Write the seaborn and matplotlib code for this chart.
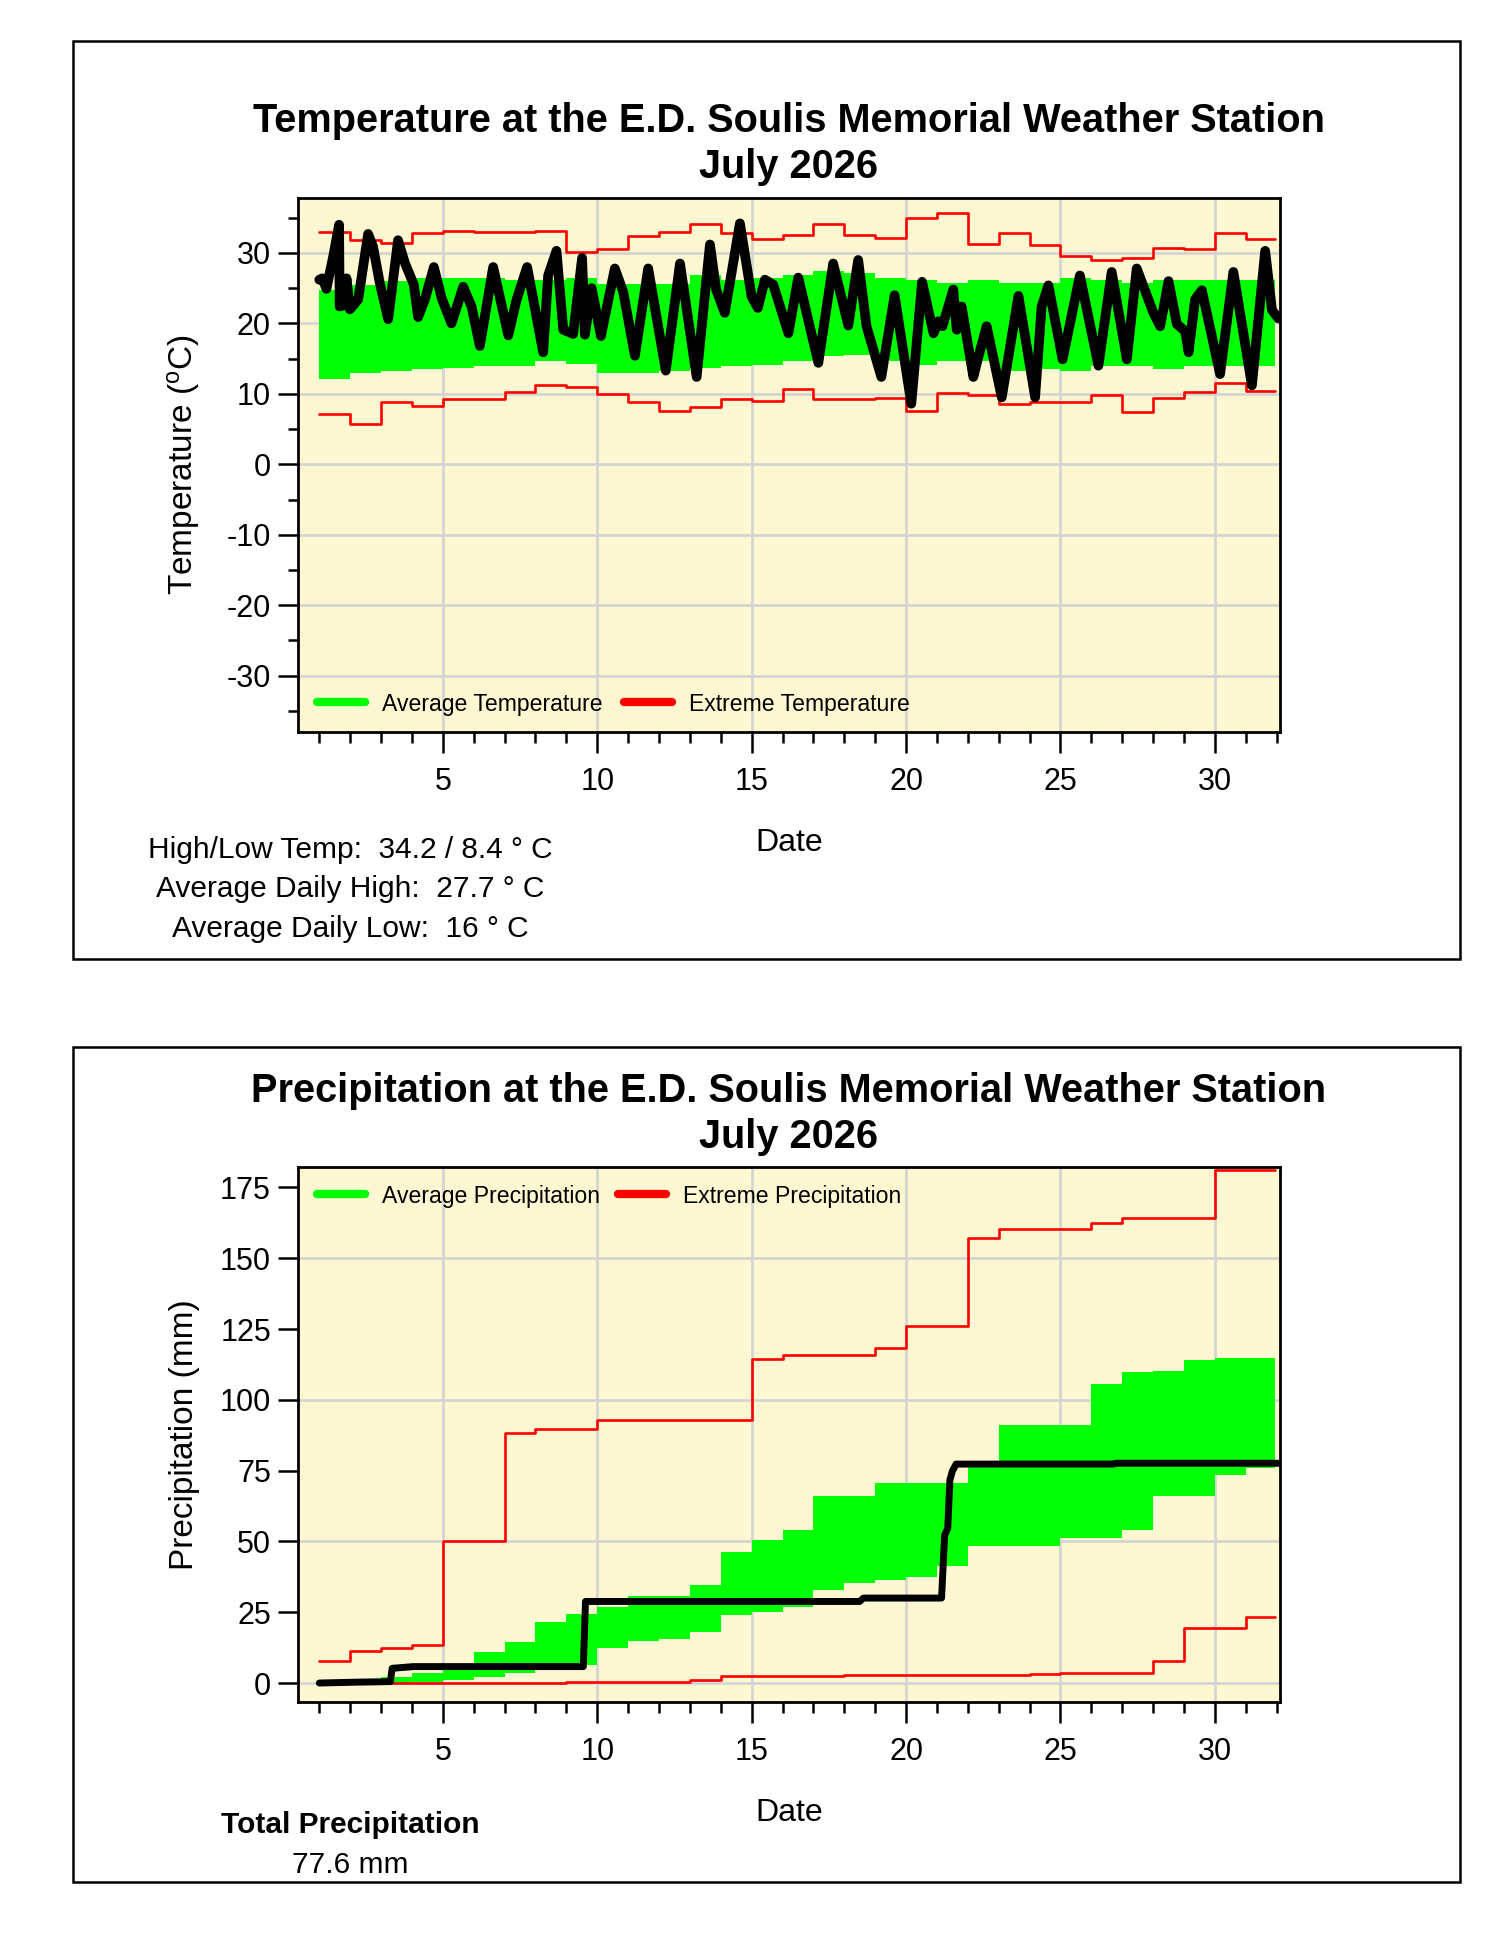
import matplotlib
matplotlib.use("Agg")
import matplotlib.pyplot as plt
import seaborn as sns
from matplotlib.lines import Line2D
from matplotlib.patches import Rectangle
from matplotlib.ticker import FixedFormatter

# ---------------- data ----------------
days = list(range(1, 32))
day_end = 31.96

# temperature (deg C)
temp_ext_high = [33.0, 31.9, 31.4, 32.8, 33.1, 33.0, 33.0, 33.1, 30.1, 30.5,
                 32.4, 33.0, 34.1, 32.9, 32.0, 32.6, 34.1, 32.5, 32.1, 34.9,
                 35.7, 31.3, 32.8, 31.1, 29.5, 29.0, 29.3, 30.7, 30.6, 32.8, 32.0]
temp_ext_low = [7.1, 5.75, 8.8, 8.3, 9.2, 9.3, 10.3, 11.3, 11.0, 10.0,
                8.8, 7.6, 8.2, 9.3, 9.0, 10.7, 9.3, 9.3, 9.4, 7.6,
                10.1, 9.9, 8.6, 8.8, 8.8, 9.9, 7.4, 9.4, 10.2, 11.5, 10.4]
temp_avg_high = [24.8, 25.4, 26.0, 26.4, 26.5, 26.5, 26.1, 26.1, 26.4, 25.6,
                 25.6, 25.6, 26.9, 26.2, 26.5, 26.8, 27.4, 27.2, 26.5, 26.1,
                 25.7, 26.1, 25.7, 25.8, 26.4, 26.1, 25.7, 26.2, 26.2, 26.2, 26.2]
temp_avg_low = [12.1, 13.0, 13.2, 13.5, 13.6, 13.9, 13.9, 14.6, 14.2, 13.0,
                13.0, 13.3, 13.65, 13.9, 14.1, 14.6, 15.4, 15.55, 14.6, 14.1,
                14.6, 14.6, 13.2, 13.5, 13.3, 14.0, 14.0, 13.5, 14.0, 14.0, 14.0]
temp_time = [1.00, 1.10, 1.23, 1.45, 1.64, 1.66, 1.83, 1.88, 1.99, 2.26,
             2.58, 2.74, 2.96, 3.23, 3.55, 3.77, 4.06, 4.20, 4.42, 4.71,
             4.96, 5.28, 5.66, 5.93, 6.20, 6.63, 7.12, 7.39, 7.73, 8.25,
             8.41, 8.68, 8.90, 9.22, 9.51, 9.60, 9.82, 10.12, 10.57, 10.84,
             11.22, 11.65, 12.22, 12.68, 13.22, 13.65, 13.85, 14.13, 14.62, 15.00,
             15.20, 15.43, 15.70, 16.19, 16.51, 17.16, 17.64, 18.13, 18.45, 18.72,
             19.20, 19.63, 20.17, 20.52, 20.89, 21.05, 21.18, 21.53, 21.64, 21.80,
             22.18, 22.34, 22.61, 23.10, 23.64, 24.18, 24.39, 24.61, 25.07, 25.63,
             26.23, 26.66, 27.15, 27.47, 28.01, 28.23, 28.50, 28.77, 29.04, 29.15,
             29.36, 29.58, 30.17, 30.60, 31.20, 31.63, 31.85, 32.06]
temp_obs = [26.2, 26.4, 24.9, 29.5, 34.0, 22.4, 22.6, 26.4, 22.0, 23.4,
            32.7, 30.9, 25.7, 20.6, 31.8, 28.6, 25.5, 20.9, 23.4, 28.0,
            23.6, 20.0, 25.2, 22.4, 16.8, 28.0, 18.3, 23.4, 28.0, 15.9,
            26.8, 30.3, 19.1, 18.5, 29.3, 18.4, 25.0, 18.2, 27.8, 24.5,
            15.4, 27.8, 13.3, 28.5, 12.4, 31.2, 24.8, 21.5, 34.2, 23.8,
            22.2, 26.2, 25.5, 18.6, 26.5, 14.4, 28.5, 19.7, 29.0, 19.6,
            12.4, 24.0, 8.6, 25.9, 18.6, 20.3, 19.6, 24.8, 19.1, 22.4,
            12.4, 15.2, 19.6, 9.5, 23.9, 9.5, 22.4, 25.4, 14.9, 26.8,
            14.0, 27.3, 14.9, 27.8, 21.5, 19.6, 26.0, 19.9, 18.9, 15.9,
            23.4, 24.7, 12.8, 27.3, 11.2, 30.3, 21.9, 20.7]

# precipitation (mm, cumulative)
precip_ext_high = [7.7, 11.3, 12.3, 13.4, 50.0, 50.0, 88.2, 89.6, 89.6, 92.7,
                   92.7, 92.7, 92.7, 92.7, 114.4, 115.9, 115.9, 115.9, 118.3, 126.0,
                   126.0, 157.1, 160.4, 160.4, 160.4, 162.6, 164.2, 164.2, 164.2, 181.2, 181.2]
precip_ext_low = [0.0, 0.0, 0.0, 0.0, 0.0, 0.0, 0.0, 0.0, 0.4, 0.4,
                  0.4, 0.4, 0.9, 2.5, 2.5, 2.5, 2.5, 2.8, 2.8, 2.8,
                  2.8, 2.8, 2.8, 3.2, 3.4, 3.4, 3.4, 7.7, 19.5, 19.5, 23.3]
precip_avg_high = [0.5, 1.0, 2.2, 3.7, 4.5, 11.0, 14.4, 21.7, 24.5, 27.0,
                   30.9, 30.9, 34.5, 46.1, 50.4, 54.0, 66.2, 66.2, 70.5, 70.5,
                   70.5, 77.0, 91.2, 91.2, 91.2, 105.5, 109.8, 110.2, 114.2, 114.8, 114.8]
precip_avg_low = [0.0, 0.0, 0.0, 0.5, 1.0, 2.2, 3.5, 5.0, 6.5, 12.3,
                  15.0, 15.6, 18.0, 24.1, 25.0, 27.0, 32.7, 35.4, 36.4, 37.3,
                  41.2, 48.5, 48.5, 48.5, 51.3, 51.3, 54.0, 66.2, 66.2, 73.5, 76.0]
precip_time = [1.00, 2.20, 3.30, 3.36, 4.05, 9.55, 9.62, 18.50, 18.62, 21.15,
               21.25, 21.35, 21.42, 21.50, 21.62, 26.70, 26.80, 32.06]
precip_obs = [0.0, 0.3, 0.5, 5.2, 5.8, 5.8, 28.8, 28.8, 30.0, 30.0,
              52.2, 54.6, 71.7, 74.8, 77.3, 77.3, 77.6, 77.6]

x_major = [5, 10, 15, 20, 25, 30]
x_minor = [d for d in range(1, 33) if d % 5 != 0]
temp_major = [-30, -20, -10, 0, 10, 20, 30]
temp_minor = [-35, -25, -15, -5, 5, 15, 25, 35]
precip_major = [0, 50, 100, 150]
precip_minor = [25, 75, 125, 175]

temp_stats = ["High/Low Temp:  34.2 / 8.4 \u00b0 C",
              "Average Daily High:  27.7 \u00b0 C",
              "Average Daily Low:  16 \u00b0 C"]
precip_stats = ["Total Precipitation", "77.6 mm"]

# ---------------- style ----------------
sns.set_theme(style="ticks")
plt.rcParams["font.family"] = ["Liberation Sans", "DejaVu Sans"]
plt.rcParams["mathtext.fontset"] = "custom"
plt.rcParams["mathtext.rm"] = "Liberation Sans"
plt.rcParams["mathtext.it"] = "Liberation Sans"
plt.rcParams["axes.unicode_minus"] = False
for k in ["text.color", "axes.labelcolor", "xtick.color", "ytick.color", "axes.edgecolor"]:
    plt.rcParams[k] = "black"

W, H = 1500, 1941
fig = plt.figure(figsize=(W / 100, H / 100), dpi=100)
fig.patch.set_facecolor("white")

BG = "#FDF8D1"
GRID = "#D3D3D3"
GREEN = "#00FF00"
RED = "#FF0000"
TICK_FS = 22


def fx(x):
    return x / W


def fy(y):
    return 1 - y / H


def steps(vals):
    return days + [day_end], list(vals) + [vals[-1]]


def style_axes(ax):
    ax.set_facecolor(BG)
    ax.set_xlim(0.31, 32.11)
    ax.set_xticks(x_major)
    ax.set_xticks(x_minor, minor=True)
    ax.grid(True, which="major", color=GRID, lw=1.9)
    ax.set_axisbelow(True)
    for s in ax.spines.values():
        s.set_visible(True)
        s.set_linewidth(2.0)
        s.set_color("black")
    ax.tick_params(axis="both", which="both", bottom=True, left=True, top=False, right=False,
                   direction="out", width=1.8, colors="black", labelsize=TICK_FS)
    ax.tick_params(axis="x", which="major", length=15, pad=10)
    ax.tick_params(axis="x", which="minor", length=8)
    ax.tick_params(axis="y", which="major", length=14.5, pad=5)


def panel_band(ax, lo, hi):
    xs, ylo = steps(lo)
    _, yhi = steps(hi)
    ax.fill_between(xs, ylo, yhi, step="post", color=GREEN, lw=0, zorder=2)


def panel_red(ax, vals):
    xs, ys = steps(vals)
    sns.lineplot(x=xs, y=ys, ax=ax, drawstyle="steps-post", color=RED, lw=1.9,
                 estimator=None, sort=False, legend=False, zorder=3)


# frames
fig.patches.append(Rectangle((fx(73), fy(959)), (1460 - 73) / W, (959 - 41) / H,
                             transform=fig.transFigure, fill=False, lw=1.8, edgecolor="black"))
fig.patches.append(Rectangle((fx(73), fy(1882)), (1460 - 73) / W, (1882 - 1047) / H,
                             transform=fig.transFigure, fill=False, lw=1.8, edgecolor="black"))

# ---------------- temperature ----------------
ax1 = fig.add_axes([fx(298), fy(732), 982 / W, 534 / H])
style_axes(ax1)
ax1.set_ylim(-38.0, 37.8)
ax1.set_yticks(temp_major)
ax1.set_yticks(temp_minor, minor=True)
ax1.tick_params(axis="y", which="minor", length=7)
panel_band(ax1, temp_avg_low, temp_avg_high)
panel_red(ax1, temp_ext_high)
panel_red(ax1, temp_ext_low)
sns.lineplot(x=temp_time, y=temp_obs, ax=ax1, color="black", lw=7.0, estimator=None,
             sort=False, legend=False, zorder=4, solid_joinstyle="round", solid_capstyle="round")
ax1.set_xlabel("Date", fontsize=23)
ax1.xaxis.label.set_va("baseline")
ax1.xaxis.set_label_coords(0.5, -(851 - 732) / 534)
ax1.set_ylabel(r"Temperature ($^{\rm o}$C)", fontsize=24)
ax1.yaxis.label.set_va("center")
ax1.yaxis.set_label_coords((184 - 298) / 982, 0.5)

h1 = [Line2D([0], [0], color=GREEN, lw=6, solid_capstyle="round"),
      Line2D([0], [0], color=RED, lw=6, solid_capstyle="round")]
ax1.legend(h1, ["Average Temperature", "Extreme Temperature"], loc="center left",
           bbox_to_anchor=((317 - 298) / 982, (732 - 704) / 534), ncol=2, frameon=False,
           fontsize=16.6, handlelength=2.1, handletextpad=0.7, columnspacing=0.95,
           borderpad=0, borderaxespad=0)

fig.text(fx(789), fy(131.7), "Temperature at the E.D. Soulis Memorial Weather Station",
         ha="center", va="baseline", fontsize=28.6, fontweight="bold")
fig.text(fx(789), fy(178.3), "July 2026", ha="center", va="baseline", fontsize=28.6, fontweight="bold")
for txt, yb in zip(temp_stats, [858.3, 896.7, 936.7]):
    fig.text(fx(350), fy(yb), txt, ha="center", va="baseline", fontsize=21.5)

# ---------------- precipitation ----------------
ax2 = fig.add_axes([fx(298), fy(1702), 982 / W, 535 / H])
style_axes(ax2)
ax2.set_ylim(-6.7, 182.2)
ax2.set_yticks(precip_major)
ax2.set_yticks(precip_minor, minor=True)
ax2.yaxis.set_minor_formatter(FixedFormatter([str(v) for v in precip_minor]))
ax2.tick_params(axis="y", which="minor", length=14.5, pad=5, labelsize=TICK_FS)
panel_band(ax2, precip_avg_low, precip_avg_high)
panel_red(ax2, precip_ext_high)
panel_red(ax2, precip_ext_low)
sns.lineplot(x=precip_time, y=precip_obs, ax=ax2, color="black", lw=5.0, estimator=None,
             sort=False, legend=False, zorder=4, solid_joinstyle="round", solid_capstyle="round")
ax2.set_xlabel("Date", fontsize=23)
ax2.xaxis.label.set_va("baseline")
ax2.xaxis.set_label_coords(0.5, -(1821 - 1702) / 535)
ax2.set_ylabel("Precipitation (mm)", fontsize=24)
ax2.yaxis.label.set_va("center")
ax2.yaxis.set_label_coords((184 - 298) / 982, 0.5)

ax2.legend(h1, ["Average Precipitation", "Extreme Precipitation"], loc="center left",
           bbox_to_anchor=((317 - 298) / 982, (1702 - 1196) / 535), ncol=2, frameon=False,
           fontsize=16.6, handlelength=2.1, handletextpad=0.7, columnspacing=0.8,
           borderpad=0, borderaxespad=0)

fig.text(fx(789), fy(1101.5), "Precipitation at the E.D. Soulis Memorial Weather Station",
         ha="center", va="baseline", fontsize=28.6, fontweight="bold")
fig.text(fx(789), fy(1148), "July 2026", ha="center", va="baseline", fontsize=28.6, fontweight="bold")
fig.text(fx(350), fy(1833.3), precip_stats[0], ha="center", va="baseline", fontsize=21.5,
         fontweight="bold")
fig.text(fx(350), fy(1873.3), precip_stats[1], ha="center", va="baseline", fontsize=21.5)

fig.savefig("out.png", dpi=100)
